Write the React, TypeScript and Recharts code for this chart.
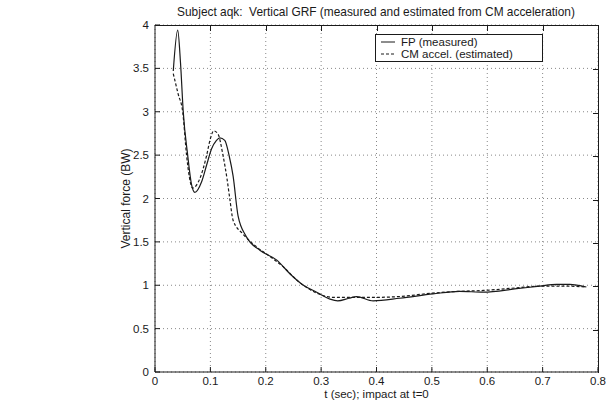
import { LineChart, Line, XAxis, YAxis, CartesianGrid, Legend, Label } from "recharts";

const tMeasured = [0.033, 0.041, 0.046, 0.051, 0.059, 0.066, 0.072, 0.084, 0.093, 0.102, 0.111, 0.117, 0.126, 0.134, 0.141, 0.15, 0.165, 0.19, 0.22, 0.244, 0.268, 0.292, 0.316, 0.33, 0.35, 0.364, 0.394, 0.442, 0.502, 0.55, 0.593, 0.653, 0.695, 0.725, 0.749, 0.779];
const fMeasured = [3.47, 3.94, 3.57, 3.0, 2.5, 2.16, 2.07, 2.19, 2.38, 2.57, 2.67, 2.7, 2.67, 2.49, 2.26, 1.8, 1.56, 1.4, 1.29, 1.13, 1.0, 0.92, 0.84, 0.82, 0.85, 0.87, 0.82, 0.85, 0.9, 0.93, 0.92, 0.96, 0.99, 1.01, 1.01, 0.98];

const tEstimated = [0.033, 0.042, 0.05, 0.057, 0.062, 0.068, 0.081, 0.093, 0.1, 0.106, 0.114, 0.123, 0.13, 0.135, 0.141, 0.159, 0.184, 0.208, 0.232, 0.256, 0.292, 0.322, 0.352, 0.394, 0.442, 0.502, 0.55, 0.593, 0.653, 0.695, 0.743, 0.779];
const fEstimated = [3.44, 3.2, 3.0, 2.5, 2.25, 2.12, 2.23, 2.49, 2.69, 2.78, 2.74, 2.49, 2.23, 2.0, 1.75, 1.59, 1.44, 1.33, 1.21, 1.06, 0.91, 0.86, 0.86, 0.86, 0.87, 0.91, 0.93, 0.94, 0.97, 0.99, 0.99, 0.98];

const xTicks = [0, 0.1, 0.2, 0.3, 0.4, 0.5, 0.6, 0.7, 0.8];
const yTicks = [0, 0.5, 1, 1.5, 2, 2.5, 3, 3.5, 4];

const FONT = "'Liberation Sans', Arial, Helvetica, sans-serif";
const INK = "#1a1a1a";

const X_MAX = 0.8;
const Y_MAX = 4;

// plot box (matches the chart margins / axis sizes below)
const PLOT = { left: 155, top: 25, right: 598, bottom: 372 };

const measured = tMeasured.map((t, i) => ({ t, f: fMeasured[i] }));
const estimated = tEstimated.map((t, i) => ({ t, f: fEstimated[i] }));

function LegendBox() {
  const row = (dash: string | undefined, text: string) => (
    <div style={{ display: "flex", alignItems: "center", height: 12 }}>
      <svg width={17} height={6} style={{ marginRight: 4 }}>
        <line x1={1} y1={3} x2={15} y2={3} stroke={INK} strokeWidth={1} strokeDasharray={dash} />
      </svg>
      <span>{text}</span>
    </div>
  );
  return (
    <div
      style={{
        border: `1px solid ${INK}`,
        background: "#fff",
        width: 162,
        height: 25,
        padding: "1px 0 0 4px",
        fontFamily: FONT,
        fontSize: 11.5,
        lineHeight: "12px",
        color: INK,
        boxSizing: "content-box",
      }}
    >
      {row(undefined, "FP (measured)")}
      {row("3 2", "CM accel. (estimated)")}
    </div>
  );
}

// top and right edges of the box with their inward ticks
function Frame() {
  return (
    <div
      style={{
        position: "absolute",
        left: PLOT.left,
        top: PLOT.top,
        width: PLOT.right - PLOT.left + 1,
        height: PLOT.bottom - PLOT.top + 1,
        borderTop: `1px solid ${INK}`,
        borderRight: `1px solid ${INK}`,
        boxSizing: "border-box",
        pointerEvents: "none",
      }}
    >
      {xTicks.slice(1, -1).map((t) => (
        <div key={`x${t}`} style={{ position: "absolute", left: `${(t / X_MAX) * 100}%`, top: 0, width: 1, height: 5, background: INK }} />
      ))}
      {yTicks.slice(1, -1).map((v) => (
        <div key={`y${v}`} style={{ position: "absolute", right: 0, top: `${(1 - v / Y_MAX) * 100}%`, width: 5, height: 1, background: INK }} />
      ))}
    </div>
  );
}

export default function App() {
  return (
    <div style={{ position: "absolute", left: 0, top: 0, width: 612, height: 417, background: "#fff" }}>
      <div
        style={{
          position: "absolute",
          left: 126,
          width: 500,
          top: 5,
          textAlign: "center",
          fontFamily: FONT,
          fontSize: 11.9,
          color: INK,
          whiteSpace: "nowrap",
        }}
      >
        Subject aqk:&nbsp; Vertical GRF (measured and estimated from CM acceleration)
      </div>
      <LineChart width={612} height={417} margin={{ top: PLOT.top, right: 612 - PLOT.right, left: 0, bottom: 0 }}>
        <CartesianGrid stroke="#888" strokeDasharray="1 3" horizontalValues={yTicks} verticalValues={xTicks} />
        <XAxis
          dataKey="t"
          type="number"
          domain={[0, X_MAX]}
          ticks={xTicks}
          allowDataOverflow
          height={417 - PLOT.bottom}
          tickSize={-5}
          tickMargin={10}
          stroke={INK}
          tick={{ fill: INK, fontSize: 11.5, fontFamily: FONT }}
        >
          <Label
            content={({ viewBox }: any) => (
              <text x={viewBox.x + viewBox.width / 2} y={viewBox.y + 26} textAnchor="middle" fill={INK} fontSize={11.5} fontFamily={FONT}>
                t (sec); impact at t=0
              </text>
            )}
          />
        </XAxis>
        <YAxis
          type="number"
          domain={[0, Y_MAX]}
          ticks={yTicks}
          allowDataOverflow
          width={PLOT.left}
          tickSize={-5}
          tickMargin={11}
          stroke={INK}
          tick={{ fill: INK, fontSize: 11.5, fontFamily: FONT }}
        >
          <Label
            content={({ viewBox }: any) => {
              const cx = 130;
              const cy = viewBox.y + viewBox.height / 2;
              return (
                <text x={cx} y={cy} transform={`rotate(-90 ${cx} ${cy})`} textAnchor="middle" fill={INK} fontSize={12} fontFamily={FONT}>
                  Vertical force (BW)
                </text>
              );
            }}
          />
        </YAxis>
        <Legend
          verticalAlign="middle"
          align="center"
          wrapperStyle={{ position: "absolute", left: 375, top: 34, width: "auto", zIndex: 2 }}
          content={() => <LegendBox />}
        />
        <Line
          data={measured}
          dataKey="f"
          name="FP (measured)"
          type="monotone"
          stroke={INK}
          strokeWidth={1.2}
          dot={false}
          isAnimationActive={false}
        />
        <Line
          data={estimated}
          dataKey="f"
          name="CM accel. (estimated)"
          type="monotone"
          stroke={INK}
          strokeWidth={1.2}
          strokeDasharray="3 2"
          dot={false}
          isAnimationActive={false}
        />
      </LineChart>
      <Frame />
    </div>
  );
}
